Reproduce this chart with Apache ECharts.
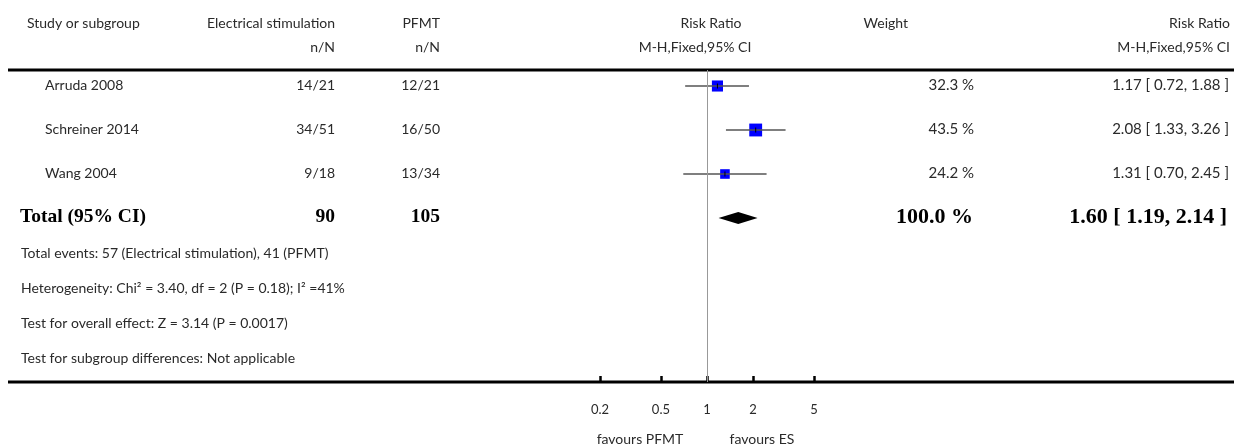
<!DOCTYPE html>
<html>
<head>
<meta charset="utf-8">
<script src="https://cdn.jsdelivr.net/npm/echarts@6/dist/echarts.min.js"></script>
<style>
html,body{margin:0;padding:0;background:#fff;}
#chart{width:1234px;height:448px;}
</style>
</head>
<body>
<div id="chart"></div>
<script>
// ---- data ----
const studies = ['Arruda 2008', 'Schreiner 2014', 'Wang 2004'];
const esEvents = ['14/21', '34/51', '9/18'];
const pfmtEvents = ['12/21', '16/50', '13/34'];
const rr = [1.17, 2.08, 1.31];
const ciLow = [0.72, 1.33, 0.70];
const ciHigh = [1.88, 3.26, 2.45];
const weights = [32.3, 43.5, 24.2];
const totalES = 90;
const totalPFMT = 105;
const totalWeight = 100.0;
const totalRR = 1.60;
const totalLow = 1.19;
const totalHigh = 2.14;
const tickValues = [0.2, 0.5, 1, 2, 5];
const footnotes = [
  'Total events: 57 (Electrical stimulation), 41 (PFMT)',
  'Heterogeneity: Chi\u00B2 = 3.40, df = 2 (P = 0.18); I\u00B2 =41%',
  'Test for overall effect: Z = 3.14 (P = 0.0017)',
  'Test for subgroup differences: Not applicable'
];

// ---- layout ----
const FONT = 'Lato, "Open Sans", sans-serif';
const SERIF = '"Liberation Serif", "DejaVu Serif", serif';
const TXT = '#2a2a2a';
const rowY = i => 85 + 44 * i;
const fmtCI = (r, l, h) => r.toFixed(2) + ' [ ' + l.toFixed(2) + ', ' + h.toFixed(2) + ' ]';

const graphics = [];
function txt(x, y, s, align, opts) {
  graphics.push({
    type: 'text', x: x, y: y, silent: true,
    style: Object.assign({
      text: s, fill: TXT, font: '14px ' + FONT,
      textAlign: align || 'left', textVerticalAlign: 'middle'
    }, opts || {})
  });
}
const num15 = { font: '15px ' + FONT };
// header
txt(27, 23, 'Study or subgroup');
txt(335, 23, 'Electrical stimulation', 'right');
txt(440, 23, 'PFMT', 'right');
txt(711, 23, 'Risk Ratio', 'center');
txt(908, 23, 'Weight', 'right');
txt(1230, 23, 'Risk Ratio', 'right');
txt(335, 47, 'n/N', 'right');
txt(440, 47, 'n/N', 'right');
txt(695, 47, 'M-H,Fixed,95% CI', 'center');
txt(1230, 47, 'M-H,Fixed,95% CI', 'right');
// study rows
studies.forEach((s, i) => {
  const y = rowY(i);
  txt(45, y, s);
  txt(335, y, esEvents[i], 'right');
  txt(440, y, pfmtEvents[i], 'right');
  txt(974, y, weights[i].toFixed(1) + ' %', 'right', num15);
  txt(1229, y, fmtCI(rr[i], ciLow[i], ciHigh[i]), 'right', num15);
});
// total row
const bold = { font: 'bold 19.5px ' + SERIF, fill: '#000' };
const boldR = { font: 'bold 22px ' + SERIF, fill: '#000' };
const ty = rowY(3);
txt(20, ty, 'Total (95% CI)', 'left', bold);
txt(335, ty, String(totalES), 'right', bold);
txt(440, ty, String(totalPFMT), 'right', bold);
txt(973, ty, totalWeight.toFixed(1) + ' %', 'right', boldR);
txt(1227, ty, fmtCI(totalRR, totalLow, totalHigh), 'right', boldR);
// footnotes
footnotes.forEach((f, i) => txt(21, 253 + 35 * i, f));
// favours labels
txt(640, 439, 'favours PFMT', 'center');
txt(762, 439, 'favours ES', 'center');
// separator lines
graphics.push({ type: 'line', silent: true, shape: { x1: 8, y1: 70, x2: 1234, y2: 70 }, style: { stroke: '#000', lineWidth: 3 } });
graphics.push({ type: 'line', silent: true, shape: { x1: 8, y1: 382, x2: 1234, y2: 382 }, style: { stroke: '#000', lineWidth: 3 } });

const Y_MIN = -16 / 44, Y_MAX = 296 / 44;

const chart = echarts.init(document.getElementById('chart'), null, { renderer: 'canvas' });
chart.setOption({
  animation: false,
  backgroundColor: '#fff',
  grid: { left: 600, right: 420, top: 70, bottom: 66, containLabel: false },
  xAxis: {
    type: 'log', logBase: 10, min: 0.2, max: 5,
    position: 'bottom',
    axisLine: { show: false, onZero: false },
    splitLine: { show: false },
    axisTick: { show: true, inside: true, length: 6, customValues: tickValues, lineStyle: { color: '#000', width: 2.5 } },
    axisLabel: {
      customValues: tickValues, margin: 21, color: TXT, fontSize: 13, fontFamily: FONT,
      formatter: v => String(v)
    },
    minorTick: { show: false }
  },
  yAxis: { type: 'value', inverse: true, min: Y_MIN, max: Y_MAX, show: false },
  series: [
    {
      type: 'custom',
      silent: true,
      data: studies.map((s, i) => [i, ciLow[i], rr[i], ciHigh[i], weights[i]]),
      encode: { x: [1, 2, 3], y: 0 },
      renderItem: function (params, api) {
        const row = api.value(0);
        const pL = api.coord([api.value(1), row]);
        const pM = api.coord([api.value(2), row]);
        const pH = api.coord([api.value(3), row]);
        const sz = 1.95 * Math.sqrt(api.value(4));
        return {
          type: 'group',
          children: [
            { type: 'rect', shape: { x: pM[0] - sz / 2, y: pM[1] - sz / 2, width: sz, height: sz }, style: { fill: '#0000ff' } },
            { type: 'line', shape: { x1: pL[0], y1: pL[1], x2: pH[0], y2: pH[1] }, style: { stroke: '#555', lineWidth: 1.5 } },
            { type: 'line', shape: { x1: pM[0], y1: pM[1] - 2.5, x2: pM[0], y2: pM[1] + 2.5 }, style: { stroke: '#000', lineWidth: 1 } }
          ]
        };
      },
      markLine: {
        silent: true, symbol: 'none', label: { show: false },
        lineStyle: { color: '#999', width: 1, type: 'solid' },
        data: [{ xAxis: 1 }]
      },
      z: 3
    },
    {
      type: 'custom',
      silent: true,
      data: [[3, totalLow, totalRR, totalHigh]],
      encode: { x: [1, 2, 3], y: 0 },
      renderItem: function (params, api) {
        const row = api.value(0);
        const pL = api.coord([api.value(1), row]);
        const pM = api.coord([api.value(2), row]);
        const pH = api.coord([api.value(3), row]);
        const h = 6;
        return {
          type: 'polygon',
          shape: { points: [[pL[0], pL[1]], [pM[0], pM[1] - h], [pH[0], pH[1]], [pM[0], pM[1] + h]] },
          style: { fill: '#000' }
        };
      },
      z: 3
    }
  ],
  graphic: graphics
});
</script>
</body>
</html>
